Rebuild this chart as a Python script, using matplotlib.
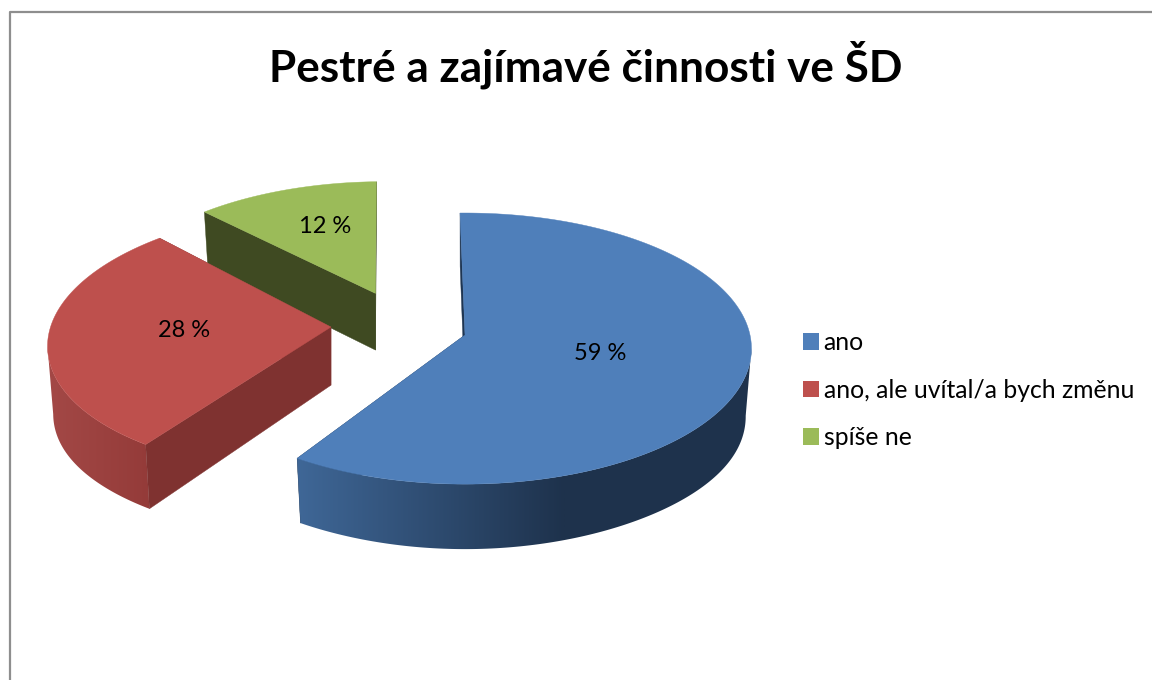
import numpy as np
import matplotlib
matplotlib.use('Agg')
import matplotlib.pyplot as plt
from matplotlib.patches import Polygon, Patch
from matplotlib.colors import LinearSegmentedColormap

# Data
categories = ['ano', 'ano, ale uvítal/a bych změnu', 'spíše ne']
values = [59, 28, 12]
title = 'Pestré a zajímavé činnosti ve ŠD'

# Colours
top_colors = ['#4F7FBA', '#BE504D', '#9BBB59']
wall_colors = ['#1E3552', '#7F3230', '#3F4A22']
rim_left = ['#3F6797', '#A34846', '#7D9646']
rim_right = ['#1E324C', '#943B39', '#7D9646']
rim_x = [(297, 565), (50, 150), (200, 380)]

# 3D look: explode offset in the pie plane for each slice
offsets = [(0.0, 0.0), (-0.473, 0.06), (-0.324, 0.32)]
radius = [1.0, 0.99, 0.97]
angle_shift = [(0.5, -0.3), (1.7, 1.7), (0.5, 0.0)]
label_shift = [(-4, 0), (-5, -4), (-2, -12)]
cx, cy = 465, 335
rx, ry = 285, 134.2
persp = 0.1
depth = 58.5
bottom_shrink = 0.98
side_extra = 0.15
start_angle = -1.6


def project(X, Y, drop=0.0):
    s = 1 + persp * Y
    return cx + rx * X / s, cy + (-ry * Y + drop) / s


plt.rcParams['font.family'] = ['Lato', 'DejaVu Sans']
fig = plt.figure(figsize=(11.52, 6.8), dpi=100)
ax = fig.add_axes([0, 0, 1, 1])

# Frame of the chart area
ax.plot([9.5, 9.5, 1152], [680, 11.5, 11.5], color='#8E8E8E', lw=1.6)

ax.text(586, 65, title, fontsize=31.8, fontweight='bold', ha='center', va='center')

# Slice angles from the values
fractions = np.array(values) / sum(values) * 360
ends = start_angle + np.cumsum(fractions)
starts = ends - fractions

# Draw from back to front
for i in [2, 1, 0]:
    theta = np.radians(np.linspace(starts[i] + angle_shift[i][0], ends[i] + angle_shift[i][1], 240))
    ox, oy = offsets[i]
    X = ox + radius[i] * np.sin(theta)
    Y = oy + radius[i] * np.cos(theta)
    xt, yt = project(X, Y)
    # the wall looks a bit taller at the sides of the pie
    xb, yb = project(X, Y, depth * (1 + side_extra * np.abs(np.sin(theta)) ** 4))
    ax_, ay_ = project(ox, oy)
    bx_, by_ = project(ox, oy, depth)
    xb = bx_ + (xb - bx_) * bottom_shrink

    # wall at the end of the slice faces away, so it goes first
    wall = [(ax_, ay_), (xt[-1], yt[-1]), (xb[-1], yb[-1]), (bx_, by_)]
    ax.add_patch(Polygon(wall, closed=True, fc=wall_colors[i], ec=wall_colors[i], lw=0.3))

    # outer wall, only the front part shows (up to the widest point), shaded along x
    k = np.argmin(xt) if ox < 0 else np.argmax(xt)
    front = np.cos(theta) <= np.cos(theta[k])
    if front.sum() > 1:
        band = list(zip(xt[front], yt[front])) + list(zip(xb[front][::-1], yb[front][::-1]))
        band_patch = Polygon(band, closed=True, fc='none', ec='none')
        ax.add_patch(band_patch)
        cmap = LinearSegmentedColormap.from_list('rim', [rim_left[i], rim_right[i]])
        grad = np.linspace(0, 1, 256).reshape(1, -1)
        img = ax.imshow(grad, cmap=cmap, aspect='auto', interpolation='bilinear',
                        extent=[rim_x[i][0], rim_x[i][1], 680, 0], zorder=1)
        img.set_clip_path(band_patch)
        # keep the colour flat outside the gradient range
        flat = ax.imshow(np.array([[1.0]]), cmap=cmap, vmin=0, vmax=1, aspect='auto',
                         extent=[rim_x[i][1], 1152, 680, 0], zorder=1)
        flat.set_clip_path(band_patch)
        flat_l = ax.imshow(np.array([[0.0]]), cmap=cmap, vmin=0, vmax=1, aspect='auto',
                           extent=[0, rim_x[i][0], 680, 0], zorder=1)
        flat_l.set_clip_path(band_patch)

    # wall at the start of the slice faces the viewer
    wall = [(ax_, ay_), (xt[0], yt[0]), (xb[0], yb[0]), (bx_, by_)]
    ax.add_patch(Polygon(wall, closed=True, fc=wall_colors[i], ec=wall_colors[i], lw=0.3, zorder=2))

    # top face
    face = [(ax_, ay_)] + list(zip(xt, yt))
    ax.add_patch(Polygon(face, closed=True, fc=top_colors[i], ec=top_colors[i], lw=0.3, zorder=2))

# Value labels
for i in range(3):
    mid = np.radians((starts[i] + ends[i]) / 2)
    ox, oy = offsets[i]
    lx, ly = project(ox + 0.5 * np.sin(mid), oy + 0.5 * np.cos(mid))
    ax.text(lx + label_shift[i][0], ly + label_shift[i][1], '%d %%' % values[i], fontsize=17,
            ha='center', va='center', color='black', zorder=5)

# Legend
handles = [Patch(fc=top_colors[i], ec='none', label=categories[i]) for i in range(3)]
ax.legend(handles=handles, loc='upper left', bbox_to_anchor=(798 / 1152, 1 - 326 / 680),
          frameon=False, fontsize=17.8, handlelength=0.66, handleheight=0.66,
          handletextpad=0.18, labelspacing=1.0, borderpad=0.2, borderaxespad=0)

ax.set_xlim(0, 1152)
ax.set_ylim(680, 0)
ax.axis('off')

plt.savefig('out.png', dpi=100)
